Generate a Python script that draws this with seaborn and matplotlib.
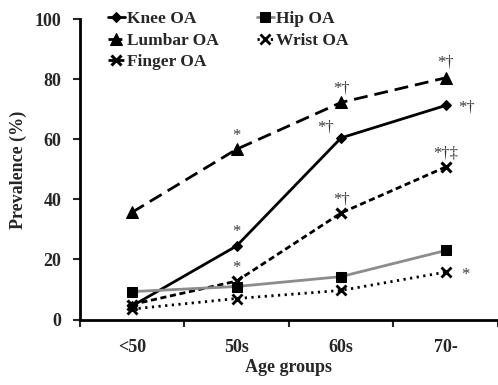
import pandas as pd
import numpy as np
import seaborn as sns
import matplotlib.pyplot as plt

sns.set_theme(style="white")
plt.rcParams['font.family'] = ['Liberation Serif', 'DejaVu Serif']
plt.rcParams['font.weight'] = 'bold'

age_groups = ["<50", "50s", "60s", "70-"]
knee = [4.5, 24.5, 60.5, 71.3]
lumbar = [35.7, 56.7, 72.3, 80.5]
finger = [5.0, 12.8, 35.5, 50.8]
hip = [9.3, 11.0, 14.3, 23.0]
wrist = [3.5, 7.0, 9.7, 15.8]

# significance marks per series (one per age group)
knee_sig = ["", "*", "*†", "*†"]
lumbar_sig = ["", "*", "*†", "*†"]
finger_sig = ["", "*", "*†", "*†‡"]
wrist_sig = ["", "", "", "*"]

df = pd.DataFrame({
    "Age": list(range(4)) * 5,
    "Prevalence": knee + lumbar + finger + hip + wrist,
    "Type": ["Knee OA"] * 4 + ["Lumbar OA"] * 4 + ["Finger OA"] * 4
            + ["Hip OA"] * 4 + ["Wrist OA"] * 4,
})

styles = {
    "Knee OA": dict(color="black", marker="D", markersize=5.5, linestyle="-", lw=2),
    "Lumbar OA": dict(color="black", marker="^", markersize=8, dashes=(5, 2.5), lw=2),
    "Finger OA": dict(color="black", marker="x", markersize=7, mew=2.2, dashes=(2.2, 1.3), lw=2),
    "Hip OA": dict(color="#8c8c8c", marker="s", markersize=6.5, mfc="black", linestyle="-", lw=2),
    "Wrist OA": dict(color="black", marker="x", markersize=7, mew=2, dashes=(0.8, 1.6), lw=2),
}

fig, ax = plt.subplots(figsize=(4.98, 3.85), dpi=100)
for name in ["Knee OA", "Lumbar OA", "Finger OA", "Hip OA", "Wrist OA"]:
    st = dict(styles[name])
    d = df[df["Type"] == name]
    dashes = st.pop("dashes", None)
    sns.lineplot(data=d, x="Age", y="Prevalence", ax=ax, label=name, mec="black", **st)
    if dashes is not None:
        ax.lines[-1].set_dashes(dashes)

def mark(vals, sigs, dx, dy):
    for i, (v, s) in enumerate(zip(vals, sigs)):
        if s:
            ax.annotate(s, xy=(i, v), xytext=(dx[i], dy[i]), textcoords="offset points",
                        ha="center", va="bottom", fontsize=12, fontweight="normal",
                        color="#3a3a3a")

mark(knee, knee_sig, [0, 0, -11, 15], [4, 4, 2, -7])
mark(lumbar, lumbar_sig, [0, 0, 0, 0], [4, 4, 4, 5])
mark(finger, finger_sig, [0, 0, 0, 0], [4, 4, 4, 4])
mark(wrist, wrist_sig, [0, 0, 0, 14], [0, 0, 0, -8])

ax.set_xlim(-0.5, 3.5)
ax.set_ylim(0, 100)
ax.set_yticks([0, 20, 40, 60, 80, 100])
ax.set_xticks([-0.5, 0.5, 1.5, 2.5, 3.5])
ax.set_xticklabels([])
ax.set_xticks(range(4), minor=True)
ax.set_xticklabels(age_groups, minor=True)
ax.tick_params(axis="x", which="minor", length=0, pad=14, labelsize=13)
ax.tick_params(axis="x", which="major", length=5, width=1.5, direction="out", bottom=True)
ax.tick_params(axis="y", length=5, width=1.5, direction="out", left=True, labelsize=13, pad=8)
for lab in ax.get_xticklabels(minor=True) + ax.get_yticklabels():
    lab.set_fontweight("bold")

sns.despine(ax=ax)
for sp in ["left", "bottom"]:
    ax.spines[sp].set_linewidth(2)
    ax.spines[sp].set_color("black")

ax.set_xlabel("Age groups", fontsize=13, fontweight="bold", labelpad=2)
ax.set_ylabel("Prevalence (%)", fontsize=13, fontweight="bold", labelpad=6)

leg = ax.legend(loc="upper left", ncol=2, frameon=False, fontsize=12.5, handlelength=1.0,
                handletextpad=0.1, columnspacing=2.2, labelspacing=0.3,
                borderaxespad=0.0, bbox_to_anchor=(0.05, 1.05))
for t in leg.get_texts():
    t.set_fontweight("bold")

fig.subplots_adjust(left=0.16, right=1.0, top=0.95, bottom=0.17)
fig.savefig("out.png", dpi=100)
